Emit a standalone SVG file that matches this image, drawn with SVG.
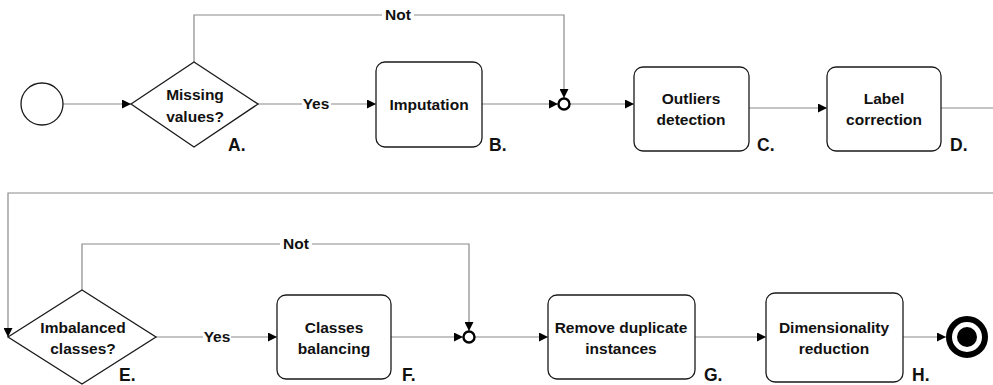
<svg xmlns="http://www.w3.org/2000/svg" width="993" height="385" viewBox="0 0 993 385">
  <style>
    .box { fill: #fff; stroke: #1a1a1a; stroke-width: 1.3; }
    .gw { fill: #fff; stroke: #1a1a1a; stroke-width: 1.3; }
    .flow { fill: none; stroke: #8a8a8a; stroke-width: 1.2; }
    .t { font-family: "Liberation Sans", Arial, sans-serif; font-weight: bold; font-size: 15.5px; fill: #111; text-anchor: middle; }
    .lbl { font-family: "Liberation Sans", Arial, sans-serif; font-weight: bold; font-size: 17.5px; fill: #111; }
    .edge { font-family: "Liberation Sans", Arial, sans-serif; font-weight: bold; font-size: 15.5px; fill: #111; text-anchor: middle; }
    .merge { fill: #fff; stroke: #000; stroke-width: 2.4; }
  </style>
  <defs>
    <marker id="arr" viewBox="0 0 10 10" refX="10" refY="5" markerWidth="9" markerHeight="9" markerUnits="userSpaceOnUse" orient="auto">
      <path d="M0,0 L10,5 L0,10 z" fill="#000"/>
    </marker>
  </defs>

  <rect width="993" height="385" fill="#fff"/>

  <!-- connectors -->
  <g id="connectors">
    <line class="flow" x1="63" y1="104" x2="131" y2="104" marker-end="url(#arr)"/>
    <path class="flow" d="M258,104 H302 M331,104 H376" marker-end="url(#arr)"/>
    <path class="flow" d="M194,62 V15 H382 M414,15 H564 V98" marker-end="url(#arr)"/>
    <line class="flow" x1="482" y1="104" x2="558" y2="104" marker-end="url(#arr)"/>
    <line class="flow" x1="570" y1="104" x2="634" y2="104" marker-end="url(#arr)"/>
    <line class="flow" x1="749" y1="108" x2="827" y2="108" marker-end="url(#arr)"/>
    <path class="flow" d="M941,108 H993 M993,193 H8 V337" marker-end="url(#arr)"/>
    <path class="flow" d="M156,337 H203 M231,337 H277" marker-end="url(#arr)"/>
    <path class="flow" d="M82,290 V244 H280 M312,244 H469 V331" marker-end="url(#arr)"/>
    <line class="flow" x1="391" y1="337" x2="463" y2="337" marker-end="url(#arr)"/>
    <line class="flow" x1="475" y1="337" x2="548" y2="337" marker-end="url(#arr)"/>
    <line class="flow" x1="695" y1="337" x2="766" y2="337" marker-end="url(#arr)"/>
    <line class="flow" x1="903" y1="337" x2="946" y2="337" marker-end="url(#arr)"/>
    <text class="edge" x="398" y="20">Not</text>
    <text class="edge" x="316" y="109">Yes</text>
    <text class="edge" x="296" y="249">Not</text>
    <text class="edge" x="217" y="342">Yes</text>
  </g>

  <!-- start event -->
  <g id="start">
    <circle cx="42" cy="104" r="21" fill="#fff" stroke="#1a1a1a" stroke-width="1.3"/>
  </g>

  <!-- A: missing values gateway -->
  <g id="nodeA">
    <polygon class="gw" points="131,104 194,62 258,104 194,147"/>
    <text class="t" x="195" y="100">Missing</text>
    <text class="t" x="195" y="122">values?</text>
    <text class="lbl" x="228" y="151">A.</text>
  </g>

  <!-- B: imputation -->
  <g id="nodeB">
    <rect class="box" x="376" y="62" width="106" height="85" rx="9"/>
    <text class="t" x="429" y="110">Imputation</text>
    <text class="lbl" x="489" y="151">B.</text>
  </g>

  <g id="merge1">
    <circle class="merge" cx="564" cy="104" r="5.5"/>
  </g>

  <!-- C: outliers detection -->
  <g id="nodeC">
    <rect class="box" x="634" y="67" width="115" height="84" rx="9"/>
    <text class="t" x="691" y="104">Outliers</text>
    <text class="t" x="691" y="125">detection</text>
    <text class="lbl" x="757" y="151">C.</text>
  </g>

  <!-- D: label correction -->
  <g id="nodeD">
    <rect class="box" x="827" y="67" width="114" height="84" rx="9"/>
    <text class="t" x="884" y="104">Label</text>
    <text class="t" x="884" y="125">correction</text>
    <text class="lbl" x="950" y="151">D.</text>
  </g>

  <!-- E: imbalanced classes gateway -->
  <g id="nodeE">
    <polygon class="gw" points="8,337 82,290 156,337 82,384"/>
    <text class="t" x="83" y="333">Imbalanced</text>
    <text class="t" x="83" y="354">classes?</text>
    <text class="lbl" x="119" y="381">E.</text>
  </g>

  <!-- F: classes balancing -->
  <g id="nodeF">
    <rect class="box" x="277" y="295" width="114" height="84" rx="9"/>
    <text class="t" x="334" y="333">Classes</text>
    <text class="t" x="334" y="354">balancing</text>
    <text class="lbl" x="402" y="381">F.</text>
  </g>

  <g id="merge2">
    <circle class="merge" cx="469" cy="337" r="5.5"/>
  </g>

  <!-- G: remove duplicate instances -->
  <g id="nodeG">
    <rect class="box" x="548" y="295" width="147" height="84" rx="9"/>
    <text class="t" x="621" y="333">Remove duplicate</text>
    <text class="t" x="621" y="354">instances</text>
    <text class="lbl" x="704" y="381">G.</text>
  </g>

  <!-- H: dimensionality reduction -->
  <g id="nodeH">
    <rect class="box" x="766" y="293" width="137" height="89" rx="9"/>
    <text class="t" x="834" y="333">Dimensionality</text>
    <text class="t" x="834" y="354">reduction</text>
    <text class="lbl" x="912" y="381">H.</text>
  </g>

  <!-- end event -->
  <g id="end">
    <circle cx="967" cy="337" r="18" fill="#fff" stroke="#000" stroke-width="6"/>
    <circle cx="967" cy="337" r="10" fill="#000"/>
  </g>
</svg>
